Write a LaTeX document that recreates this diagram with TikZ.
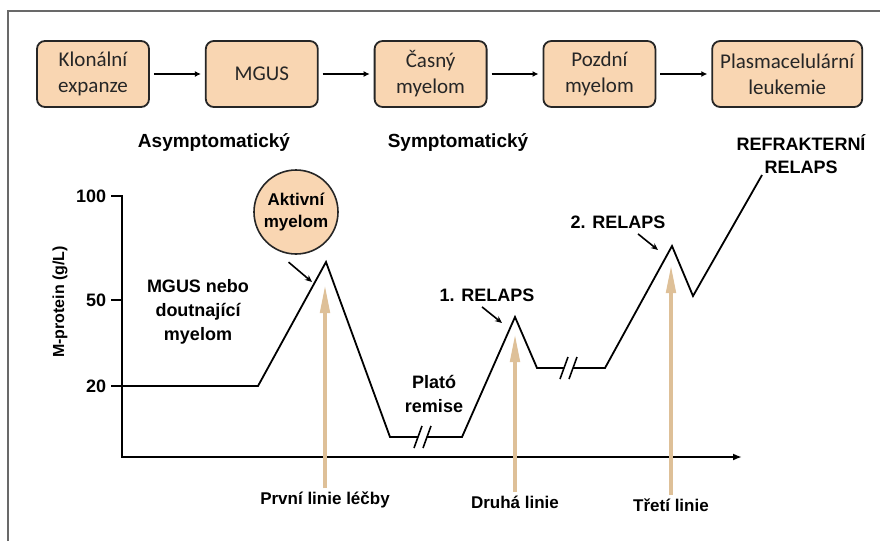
\documentclass[tikz,border=0pt]{standalone}
\usepackage{fontspec}
\setmainfont{Liberation Sans}
\newfontfamily\boxfont{Carlito}
\usetikzlibrary{positioning,arrows.meta}
\definecolor{peach}{RGB}{249,214,178}
\definecolor{tanline}{RGB}{222,192,152}
\definecolor{tanlight}{RGB}{240,222,196}
\definecolor{framegray}{RGB}{105,105,105}

\begin{document}
\begin{tikzpicture}[x=1pt,y=-1pt,
        stage/.style={draw=black!85, line width=1.8pt, rounded corners=8pt, fill=peach,
            minimum width=112pt, minimum height=66pt, align=center, inner sep=2pt,
            text=black!85, font=\boxfont\fontsize{21}{26}\selectfont},
        lbl/.style={align=center, font=\bfseries\fontsize{18}{24}\selectfont},
        ptr/.style={line width=1.6pt, -{Stealth[length=7pt,width=6pt]}},
        lecba/.style={draw=tanline, line width=4.5pt, -{Triangle[length=30pt,width=9pt,fill=tanlight]}},
        curve/.style={line width=1.8pt, line join=miter}]
    \useasboundingbox (0,0) rectangle (880,541);

    % frame
    \draw[framegray, line width=2.2pt] (8,541) -- (8,11) -- (880,11);

    % stages
    \node[stage] (klon) at (93,74) {Klonální\\expanze};
    \node[stage, right=55pt of klon] (mgus) {MGUS};
    \node[stage, right=55pt of mgus] (casny) {Časný\\myelom};
    \node[stage, right=55pt of casny] (pozdni) {Pozdní\\myelom};
    \node[stage, right=55pt of pozdni, minimum width=150pt] (leuk) {Plasmacelulární\\leukemie};
    \foreach \a/\b in {klon/mgus, mgus/casny, casny/pozdni, pozdni/leuk}
        \draw[line width=1.8pt, -{Latex[length=6pt,width=6pt]}, shorten <=4pt, shorten >=4pt] (\a) -- (\b);

    \node[lbl, font=\bfseries\fontsize{19}{24}\selectfont] (asym) at (214,143) {Asymptomatický};
    \node[lbl, font=\bfseries\fontsize{19}{24}\selectfont] (sym) at (458,143) {Symptomatický};
    \node[lbl, font=\bfseries\fontsize{18}{23}\selectfont] (refr) at (801,154) {REFRAKTERNÍ\\RELAPS};

    % axes
    \coordinate (ytop) at (122,195);
    \coordinate (O) at (122,457);
    \coordinate (xend) at (742,457);
    \draw[line width=1.8pt, -{Latex[length=9pt,width=7pt]}] (ytop) -- (O) -- (xend);
    \foreach \v/\yy in {100/196, 50/300, 20/386}
        \draw[line width=1.6pt] (122,\yy) -- (111,\yy) node[left, inner sep=4pt, font=\bfseries\fontsize{18}{20}\selectfont] {\v};
    \node[rotate=90, font=\bfseries\fontsize{16}{18}\selectfont] (ylab) at (60,302) {M-protein (g/L)};

    % M-protein course
    \coordinate (p0) at (122,386);
    \coordinate (p1) at (258,386);
    \coordinate (vrch) at (326,262);
    \coordinate (p3) at (390,437);
    \coordinate (p4) at (462,437);
    \coordinate (rel1) at (515,317);
    \coordinate (p6) at (537,368);
    \coordinate (p7) at (605,368);
    \coordinate (rel2) at (672,246);
    \coordinate (p9) at (693,296);
    \coordinate (konec) at (762,175);
    \draw[curve] (p0) -- (p1) -- (vrch) -- (p3) -- (p4) -- (rel1) -- (p6) -- (p7) -- (rel2) -- (p9) -- (konec);

    % breaks
    \foreach \bx/\by in {424/437, 570/368} {
        \fill[white] (\bx-6,\by-3) rectangle (\bx+3,\by+3);
        \draw[line width=1.6pt] (\bx-10,\by+11) -- (\bx-2,\by-11);
        \draw[line width=1.6pt] (\bx-1,\by+11) -- (\bx+7,\by-11);
    }

    % labels
    \node[lbl] (mgusnebo) at (198,312) {MGUS nebo\\doutnající\\myelom};
    \node[lbl] (plato) at (434,394) {Plató\\remise};
    \node[draw=black!85, line width=1.6pt, circle, fill=peach, minimum size=84pt, inner sep=0pt,
        align=center, font=\bfseries\fontsize{17}{22}\selectfont] (akt) at (296,212) {Aktivní\\myelom};
    \node[lbl] (r1lab) at (487,295) {1. RELAPS};
    \node[lbl] (r2lab) at (618,222) {2. RELAPS};

    \coordinate (t0) at (312,282);
    \coordinate (t1) at (502,323);
    \coordinate (t2) at (658,250);
    \draw[ptr] ([yshift=-8pt]akt.260) -- (t0);
    \draw[ptr] ([xshift=-5pt,yshift=-2pt]r1lab.south) -- (t1);
    \draw[ptr] ([xshift=20pt,yshift=-2pt]r2lab.south) -- (t2);

    % treatment lines
    \node[font=\bfseries\fontsize{17}{20}\selectfont] (l1) at (325,500) {První linie léčby};
    \node[font=\bfseries\fontsize{17}{20}\selectfont] (l2) at (515,502) {Druhá linie};
    \node[font=\bfseries\fontsize{17}{20}\selectfont] (l3) at (671,505) {Třetí linie};
    \coordinate (h1) at (325,283);
    \coordinate (h2) at (515,332);
    \coordinate (h3) at (671,263);
    \foreach \l/\h in {l1/h1, l2/h2, l3/h3}
        \draw[lecba] (\l.north) -- (\h);
\end{tikzpicture}
\end{document}
